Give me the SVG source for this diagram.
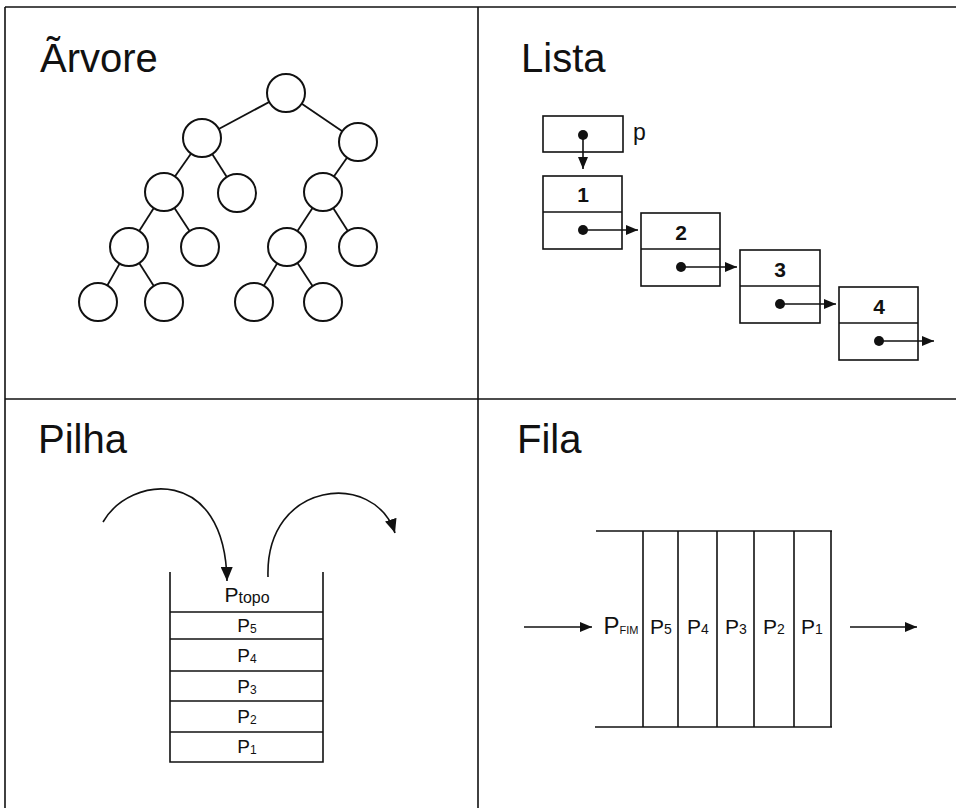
<svg xmlns="http://www.w3.org/2000/svg" width="956" height="808" viewBox="0 0 956 808">
<style>
.frame{stroke:#111;stroke-width:1.6;fill:none}
.c{fill:#fff;stroke:#111;stroke-width:2}
.e{stroke:#111;stroke-width:1.8;fill:none}
.box{fill:none;stroke:#111;stroke-width:1.6}
.ln{stroke:#111;stroke-width:1.6;fill:none}
.dot{fill:#111}
.title{font-family:"Liberation Sans",Arial,sans-serif;font-size:40px;fill:#111}
.num{font-family:"Liberation Sans",Arial,sans-serif;font-size:21px;font-weight:bold;fill:#111}
.lbl{font-family:"Liberation Sans",Arial,sans-serif;fill:#111}
</style>
<defs>
<marker id="ah" markerWidth="12" markerHeight="10" refX="12" refY="5" orient="auto" markerUnits="userSpaceOnUse"><path d="M0,0 L12,5 L0,10 z" fill="#111"/></marker>
<marker id="ahb" markerWidth="14" markerHeight="12" refX="14" refY="6" orient="auto" markerUnits="userSpaceOnUse"><path d="M0,0 L14,6 L0,12 z" fill="#111"/></marker>
</defs>
<rect width="956" height="808" fill="#fff"/>
<g id="frame">
<line class="frame" x1="5" y1="7" x2="956" y2="7"/>
<line class="frame" x1="5" y1="7" x2="5" y2="808"/>
<line class="frame" x1="478" y1="7" x2="478" y2="808"/>
<line class="frame" x1="5" y1="399" x2="956" y2="399"/>
</g>
<g id="titles">
<text class="title" x="40" y="72">Ãrvore</text>
<text class="title" x="521" y="72">Lista</text>
<text class="title" x="38" y="453">Pilha</text>
<text class="title" x="517" y="453">Fila</text>
</g>
<g id="connectors">
<line class="e" x1="286" y1="93" x2="202" y2="138"/>
<line class="e" x1="286" y1="93" x2="358" y2="142"/>
<line class="e" x1="202" y1="138" x2="164" y2="192"/>
<line class="e" x1="202" y1="138" x2="237" y2="193"/>
<line class="e" x1="358" y1="142" x2="323" y2="192"/>
<line class="e" x1="164" y1="192" x2="129" y2="247"/>
<line class="e" x1="164" y1="192" x2="200" y2="247"/>
<line class="e" x1="323" y1="192" x2="287" y2="247"/>
<line class="e" x1="323" y1="192" x2="358" y2="247"/>
<line class="e" x1="129" y1="247" x2="98" y2="302"/>
<line class="e" x1="129" y1="247" x2="164" y2="302"/>
<line class="e" x1="287" y1="247" x2="254" y2="302"/>
<line class="e" x1="287" y1="247" x2="323" y2="302"/>
<line class="ln" x1="583" y1="135" x2="583" y2="169" marker-end="url(#ah)"/>
<line class="ln" x1="583" y1="230" x2="638" y2="230" marker-end="url(#ah)"/>
<line class="ln" x1="681" y1="267" x2="737" y2="267" marker-end="url(#ah)"/>
<line class="ln" x1="780" y1="304" x2="836" y2="304" marker-end="url(#ah)"/>
<line class="ln" x1="879" y1="341" x2="934" y2="341" marker-end="url(#ah)"/>
<path class="ln" d="M103,522 C130,475 225,465 227,581" marker-end="url(#ahb)"/>
<path class="ln" d="M268,577 C265,480 375,470 395,533" marker-end="url(#ahb)"/>
<line class="ln" x1="524" y1="627" x2="592" y2="627" marker-end="url(#ah)"/>
<line class="ln" x1="850" y1="627" x2="917" y2="627" marker-end="url(#ah)"/>
</g>
<g id="tree">
<g id="t1"><circle class="c" cx="286" cy="93" r="19"/></g>
<g id="t2"><circle class="c" cx="202" cy="138" r="19"/></g>
<g id="t3"><circle class="c" cx="358" cy="142" r="19"/></g>
<g id="t4"><circle class="c" cx="164" cy="192" r="19"/></g>
<g id="t5"><circle class="c" cx="237" cy="193" r="19"/></g>
<g id="t6"><circle class="c" cx="323" cy="192" r="19"/></g>
<g id="t7"><circle class="c" cx="129" cy="247" r="19"/></g>
<g id="t8"><circle class="c" cx="200" cy="247" r="19"/></g>
<g id="t9"><circle class="c" cx="287" cy="247" r="19"/></g>
<g id="t10"><circle class="c" cx="358" cy="247" r="19"/></g>
<g id="t11"><circle class="c" cx="98" cy="302" r="19"/></g>
<g id="t12"><circle class="c" cx="164" cy="302" r="19"/></g>
<g id="t13"><circle class="c" cx="254" cy="302" r="19"/></g>
<g id="t14"><circle class="c" cx="323" cy="302" r="19"/></g>
</g>
<g id="lista">
<g id="p"><rect class="box" x="543" y="116" width="80" height="36"/><circle class="dot" cx="583" cy="135" r="5"/><text class="lbl" x="633" y="140" font-size="23">p</text></g>
<g id="n1"><rect class="box" x="543" y="176" width="79" height="73"/><line class="ln" x1="543" y1="212" x2="622" y2="212"/><text class="num" x="583" y="202" text-anchor="middle">1</text><circle class="dot" cx="583" cy="230" r="5"/></g>
<g id="n2"><rect class="box" x="641" y="213" width="79" height="73"/><line class="ln" x1="641" y1="249" x2="720" y2="249"/><text class="num" x="681" y="240" text-anchor="middle">2</text><circle class="dot" cx="681" cy="267" r="5"/></g>
<g id="n3"><rect class="box" x="740" y="250" width="80" height="73"/><line class="ln" x1="740" y1="286" x2="820" y2="286"/><text class="num" x="780" y="277" text-anchor="middle">3</text><circle class="dot" cx="780" cy="304" r="5"/></g>
<g id="n4"><rect class="box" x="839" y="287" width="79" height="73"/><line class="ln" x1="839" y1="323" x2="918" y2="323"/><text class="num" x="879" y="314" text-anchor="middle">4</text><circle class="dot" cx="879" cy="341" r="5"/></g>
</g>
<g id="pilha">
<g id="stack"><path class="ln" d="M170,572 L170,762 L323,762 L323,572"/></g>
<g id="ptopo"><text class="lbl" x="247" y="602" text-anchor="middle" font-size="21">P<tspan font-size="16" dy="1">topo</tspan></text></g>
<g id="s5"><line class="ln" x1="170" y1="612" x2="323" y2="612"/><text class="lbl" x="247" y="632" text-anchor="middle" font-size="19">P<tspan font-size="12" dy="1">5</tspan></text></g>
<g id="s4"><line class="ln" x1="170" y1="639" x2="323" y2="639"/><text class="lbl" x="247" y="662" text-anchor="middle" font-size="19">P<tspan font-size="12" dy="1">4</tspan></text></g>
<g id="s3"><line class="ln" x1="170" y1="671" x2="323" y2="671"/><text class="lbl" x="247" y="693" text-anchor="middle" font-size="19">P<tspan font-size="12" dy="1">3</tspan></text></g>
<g id="s2"><line class="ln" x1="170" y1="701" x2="323" y2="701"/><text class="lbl" x="247" y="723" text-anchor="middle" font-size="19">P<tspan font-size="12" dy="1">2</tspan></text></g>
<g id="s1"><line class="ln" x1="170" y1="732" x2="323" y2="732"/><text class="lbl" x="247" y="753" text-anchor="middle" font-size="19">P<tspan font-size="12" dy="1">1</tspan></text></g>
</g>
<g id="fila">
<g id="queue"><line class="ln" x1="596" y1="531" x2="832" y2="531"/><line class="ln" x1="595" y1="727" x2="832" y2="727"/></g>
<g id="pfim"><text class="lbl" x="621" y="634" text-anchor="middle" font-size="24">P<tspan font-size="11" dy="0">FIM</tspan></text></g>
<g id="q5"><line class="ln" x1="643" y1="531" x2="643" y2="727"/><text class="lbl" x="661" y="634" text-anchor="middle" font-size="21">P<tspan font-size="14" dy="0">5</tspan></text></g>
<g id="q4"><line class="ln" x1="678" y1="531" x2="678" y2="727"/><text class="lbl" x="698" y="634" text-anchor="middle" font-size="21">P<tspan font-size="14" dy="0">4</tspan></text></g>
<g id="q3"><line class="ln" x1="717" y1="531" x2="717" y2="727"/><text class="lbl" x="736" y="634" text-anchor="middle" font-size="21">P<tspan font-size="14" dy="0">3</tspan></text></g>
<g id="q2"><line class="ln" x1="754" y1="531" x2="754" y2="727"/><text class="lbl" x="774" y="634" text-anchor="middle" font-size="21">P<tspan font-size="14" dy="0">2</tspan></text></g>
<g id="q1"><line class="ln" x1="794" y1="531" x2="794" y2="727"/><line class="ln" x1="831" y1="531" x2="831" y2="727"/><text class="lbl" x="812" y="634" text-anchor="middle" font-size="21">P<tspan font-size="14" dy="0">1</tspan></text></g>
</g>
</svg>
